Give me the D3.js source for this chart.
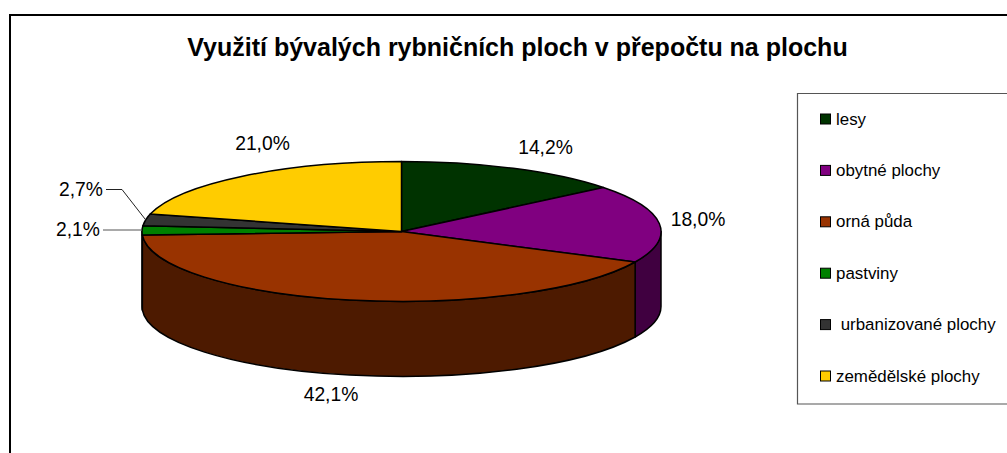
<!DOCTYPE html>
<html><head><meta charset="utf-8">
<script src="https://cdn.jsdelivr.net/npm/d3@7"></script>
<style>html,body{margin:0;padding:0;background:#fff}svg{display:block}text{font-family:"Liberation Sans",Arial,sans-serif;fill:#000}</style>
</head><body><svg id="c" width="1007" height="453"></svg>
<script>
const titleText = "Využití bývalých rybničních ploch v přepočtu na plochu";
const categories = ["lesy","obytné plochy","orná půda","pastviny"," urbanizované plochy","zemědělské plochy"];
const values = [14.2,18.0,42.1,2.1,2.7,21.0];
const valueLabels = ["14,2%","18,0%","42,1%","2,1%","2,7%","21,0%"];
const topColors = ["#003300","#800080","#993300","#008000","#333333","#FFCC00"];
const wallColors = ["#001a00","#400040","#4d1a00","#004000","#1a1a1a","#806600"];
const labelPos = [[545.5,154],[698,226],[331,401],[78,236],[81,196],[262.5,150]];

const W=1007,H=453,cx=401.5,cy=231.5,rx=259.5,ry=70,depth=75;
const svg=d3.select("#c");
svg.append("path").attr("d","M10,453V15H1007").attr("fill","none").attr("stroke","#000").attr("stroke-width",2);
svg.append("text").attr("x",517.5).attr("y",56).attr("text-anchor","middle").attr("font-weight","bold").attr("font-size",25).text(titleText);

const arcs=d3.pie().sort(null).value(d=>d)(values);
const px=a=>cx+rx*Math.sin(a), py=a=>cy-ry*Math.cos(a);
// walls
const wall=svg.append("g");
arcs.forEach((d,i)=>{
  const a0=Math.max(d.startAngle,Math.PI/2), a1=Math.min(d.endAngle,Math.PI*1.5);
  if(a1<=a0) return;
  wall.append("path")
   .attr("d",`M${px(a0)},${py(a0)}A${rx},${ry} 0 0 1 ${px(a1)},${py(a1)}L${px(a1)},${py(a1)+depth}A${rx},${ry} 0 0 0 ${px(a0)},${py(a0)+depth}Z`)
   .attr("fill",wallColors[i]).attr("stroke","#000").attr("stroke-width",1.5).attr("stroke-linejoin","round");
});
// top
const arcGen=d3.arc().innerRadius(0).outerRadius(rx);
svg.append("g").attr("transform",`translate(${cx},${cy}) scale(1,${ry/rx})`)
 .selectAll("path").data(arcs).join("path").attr("d",arcGen)
 .attr("fill",(d,i)=>topColors[i]).attr("stroke","#000").attr("stroke-width",1.5)
 .attr("vector-effect","non-scaling-stroke").attr("stroke-linejoin","round");

// leaders
const a3=(arcs[3].startAngle+arcs[3].endAngle)/2, a4=(arcs[4].startAngle+arcs[4].endAngle)/2;
svg.append("path").attr("d",`M106,189.5H122L${px(a4)},${py(a4)}`).attr("fill","none").attr("stroke","#222").attr("stroke-width",1);
svg.append("path").attr("d",`M103,230H${px(a3)}`).attr("fill","none").attr("stroke","#555").attr("stroke-width",1);
// labels
svg.append("g").selectAll("text").data(valueLabels).join("text")
 .attr("x",(d,i)=>labelPos[i][0]).attr("y",(d,i)=>labelPos[i][1])
 .attr("text-anchor","middle").attr("font-size",19.3).text(d=>d);

// legend
svg.append("path").attr("d","M1007,93.5H797.5V404H1007").attr("fill","#fff").attr("stroke","#555").attr("stroke-width",1.2);
const ly=d3.scalePoint().domain(categories).range([119,376]);
const lg=svg.append("g").selectAll("g").data(categories).join("g").attr("transform",d=>`translate(820.5,${ly(d)})`);
lg.append("rect").attr("x",0).attr("y",-5).attr("width",10).attr("height",10).attr("fill",(d,i)=>topColors[i]).attr("stroke","#000").attr("stroke-width",1);
lg.append("text").attr("x",15.5).attr("y",5.5).attr("font-size",16.9).style("white-space","pre").text(d=>d);
</script></body></html>
